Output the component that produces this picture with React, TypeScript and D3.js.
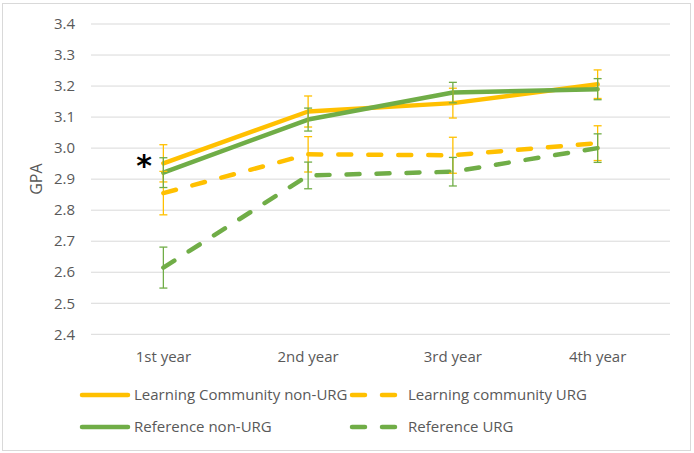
import React from "react";
import * as d3 from "d3";

const categories = ["1st year", "2nd year", "3rd year", "4th year"];
const yTicks = [2.4, 2.5, 2.6, 2.7, 2.8, 2.9, 3.0, 3.1, 3.2, 3.3, 3.4];

const lcNonUrg = [2.951, 3.118, 3.145, 3.206];
const lcNonUrgErr = [0.06, 0.05, 0.048, 0.046];
const lcUrg = [2.855, 2.98, 2.977, 3.016];
const lcUrgErr = [0.07, 0.057, 0.058, 0.056];
const refNonUrg = [2.921, 3.092, 3.179, 3.19];
const refNonUrgErr = [0.048, 0.037, 0.033, 0.034];
const refUrg = [2.615, 2.912, 2.924, 3.0];
const refUrgErr = [0.066, 0.043, 0.046, 0.046];

const seriesNames = [
  "Learning Community non-URG",
  "Learning community URG",
  "Reference non-URG",
  "Reference URG",
];

const YELLOW = "#FFC000";
const GREEN = "#70AD47";
const TEXT = "#595959";
const FONT = "'Open Sans', sans-serif";

type S = { name: string; values: number[]; err: number[]; color: string; dashed: boolean };
const series: S[] = [
  { name: seriesNames[0], values: lcNonUrg, err: lcNonUrgErr, color: YELLOW, dashed: false },
  { name: seriesNames[1], values: lcUrg, err: lcUrgErr, color: YELLOW, dashed: true },
  { name: seriesNames[2], values: refNonUrg, err: refNonUrgErr, color: GREEN, dashed: false },
  { name: seriesNames[3], values: refUrg, err: refUrgErr, color: GREEN, dashed: true },
];

export default function App() {
  const W = 694, H = 453;
  const x = d3.scalePoint<string>().domain(categories).range([91, 670]).padding(0.5);
  const y = d3.scaleLinear().domain([2.4, 3.4]).range([334.3, 24]);
  const line = d3
    .line<number>()
    .x((_, i) => x(categories[i]) as number)
    .y((d) => y(d));
  const dash = "13,17";
  const legendPos = [
    { lx: 80, tx: 134, y: 395 },
    { lx: 350, tx: 408, y: 395 },
    { lx: 80, tx: 134, y: 427 },
    { lx: 350, tx: 408, y: 427 },
  ];
  return (
    <svg
      width={W}
      height={H}
      style={{ position: "absolute", left: 0, top: 0, background: "#fff" }}
      fontFamily={FONT}
    >
      <rect x={2.5} y={3.5} width={688} height={447} fill="#fff" stroke="#d9d9d9" strokeWidth={1} />
      {yTicks.map((t) => (
        <g key={t}>
          <line x1={91} x2={670} y1={y(t)} y2={y(t)} stroke="#d9d9d9" strokeWidth={1} />
          <text x={75} y={y(t)} dy="0.35em" textAnchor="end" fontSize={15} fill={TEXT}>
            {t.toFixed(1)}
          </text>
        </g>
      ))}
      <text
        transform={`translate(${36},${(y(2.4) + y(3.4)) / 2}) rotate(-90)`}
        textAnchor="middle"
        fontSize={16}
        fill={TEXT}
        dy="0.35em"
      >
        GPA
      </text>
      {categories.map((c) => (
        <text key={c} x={x(c)} y={357} dy="0.35em" textAnchor="middle" fontSize={15} fill={TEXT}>
          {c}
        </text>
      ))}
      {series.map((s) => (
        <path
          key={s.name}
          d={line(s.values) || ""}
          fill="none"
          stroke={s.color}
          strokeWidth={4.5}
          strokeLinecap="round"
          strokeLinejoin="round"
          strokeDasharray={s.dashed ? dash : undefined}
        />
      ))}
      {series.map((s) =>
        s.values.map((v, i) => {
          const cx = x(categories[i]) as number;
          const y1 = y(v + s.err[i]);
          const y2 = y(v - s.err[i]);
          return (
            <g key={s.name + i} stroke={s.color} strokeWidth={1.3}>
              <line x1={cx} x2={cx} y1={y1} y2={y2} />
              <line x1={cx - 4} x2={cx + 4} y1={y1} y2={y1} />
              <line x1={cx - 4} x2={cx + 4} y1={y2} y2={y2} />
            </g>
          );
        })
      )}
      <text x={144} y={165} dy="0.35em" textAnchor="middle" fontSize={30} fontWeight="bold" fill="#000" fontFamily="'DejaVu Sans', sans-serif">
        *
      </text>
      {series.map((s, i) => {
        const p = legendPos[i];
        return (
          <g key={"lg" + s.name}>
            <line
              x1={p.lx + 2}
              x2={p.lx + 48}
              y1={p.y}
              y2={p.y}
              stroke={s.color}
              strokeWidth={4.5}
              strokeLinecap="round"
              strokeDasharray={s.dashed ? dash : undefined}
            />
            <text x={p.tx} y={p.y} dy="0.35em" fontSize={15} fill={TEXT}>
              {s.name}
            </text>
          </g>
        );
      })}
    </svg>
  );
}
